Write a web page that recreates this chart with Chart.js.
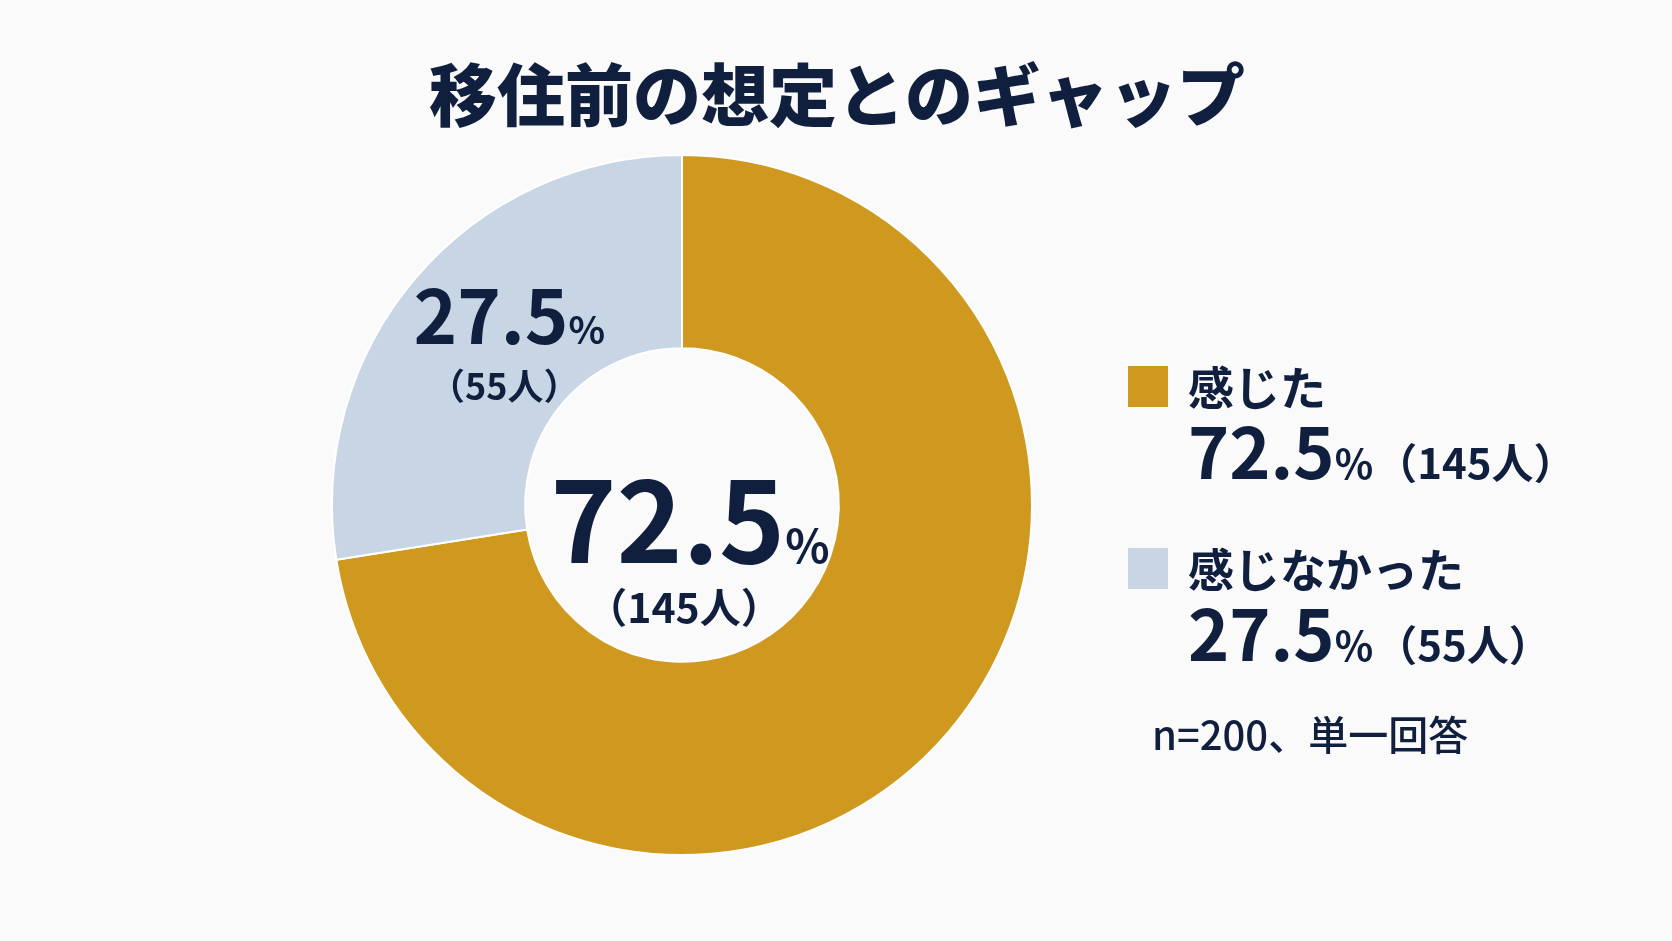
<!DOCTYPE html>
<html lang="ja">
<head>
<meta charset="utf-8">
<script src="https://cdn.jsdelivr.net/npm/chart.js@4.4.1/dist/chart.umd.min.js"></script>
<style>
  html, body { margin: 0; padding: 0; background: #fafafb; }
  #wrap { position: relative; width: 1672px; height: 941px; }
</style>
</head>
<body>
<div id="wrap"><canvas id="gapChart" width="1672" height="941"></canvas></div>
<script>
const titleText = '移住前の想定とのギャップ';
const categories = ['感じた', '感じなかった'];
const percents = [72.5, 27.5];
const counts = [145, 55];
const sampleNote = 'n=200、単一回答';

const colors = ['#cf9920', '#c8d5e4'];
const navy = '#0f1f3d';
const FONT = '"Noto Sans CJK JP", "Noto Sans", sans-serif';

// draw a run of text pieces with different sizes on one baseline
function drawRun(ctx, parts, x, y, align) {
  let total = 0;
  parts.forEach(p => {
    ctx.font = `${p.weight || 700} ${p.size}px ${FONT}`;
    p.w = ctx.measureText(p.text).width + (p.gap || 0);
    total += p.w;
  });
  let cx = align === 'center' ? x - total / 2 : x;
  parts.forEach(p => {
    ctx.font = `${p.weight || 700} ${p.size}px ${FONT}`;
    ctx.fillText(p.text, cx, y);
    cx += p.w;
  });
}

const labelPlugin = {
  id: 'labels',
  afterDraw(chart) {
    const ctx = chart.ctx;
    ctx.save();
    ctx.fillStyle = navy;
    ctx.textAlign = 'left';
    ctx.textBaseline = 'alphabetic';

    // title
    ctx.font = `900 68px ${FONT}`;
    ctx.textAlign = 'center';
    ctx.textBaseline = 'middle';
    ctx.fillText(titleText, 837, 95);
    ctx.textAlign = 'left';
    ctx.textBaseline = 'alphabetic';

    const arcs = chart.getDatasetMeta(0).data;
    const cx = arcs[0].x, cy = arcs[0].y;

    // centre label (first category)
    drawRun(ctx, [
      { text: percents[0].toFixed(1), size: 112 },
      { text: '%', size: 46 }
    ], cx + 8, cy + 58, 'center');
    drawRun(ctx, [{ text: `（${counts[0]}人）`, size: 41 }], cx + 2, cy + 118, 'center');

    // label inside the smaller slice
    const pos = arcs[1].tooltipPosition();
    drawRun(ctx, [
      { text: percents[1].toFixed(1), size: 74 },
      { text: '%', size: 38 }
    ], pos.x + 20, pos.y + 4, 'center');
    drawRun(ctx, [{ text: `（${counts[1]}人）`, size: 36 }], pos.x + 15, pos.y + 60, 'center');

    // legend
    const rows = [366, 548];
    categories.forEach((cat, i) => {
      const top = rows[i];
      ctx.fillStyle = colors[i];
      ctx.fillRect(1128, top, 40, 41);
      ctx.fillStyle = navy;
      ctx.textBaseline = 'middle';
      ctx.font = `700 46px ${FONT}`;
      ctx.fillText(cat, 1188, top + 22);
      ctx.textBaseline = 'alphabetic';
      drawRun(ctx, [
        { text: percents[i].toFixed(1), size: 70 },
        { text: '%', size: 40, gap: 2 },
        { text: `（${counts[i]}人）`, size: 42 }
      ], 1188, top + 113, 'left');
    });

    ctx.font = `500 40px ${FONT}`;
    ctx.textBaseline = 'middle';
    ctx.fillText(sampleNote, 1152, 735);
    ctx.restore();
  }
};

new Chart(document.getElementById('gapChart'), {
  type: 'doughnut',
  data: {
    labels: categories,
    datasets: [{
      data: percents,
      backgroundColor: colors,
      borderColor: '#ffffff',
      borderWidth: 2,
      hoverOffset: 0
    }]
  },
  options: {
    responsive: false,
    animation: false,
    cutout: '44.8%',
    rotation: 0,
    layout: { padding: { left: 331, right: 639, top: 154, bottom: 85 } },
    plugins: {
      legend: { display: false },
      tooltip: { enabled: false },
      title: { display: false }
    }
  },
  plugins: [labelPlugin]
});
</script>
</body>
</html>
